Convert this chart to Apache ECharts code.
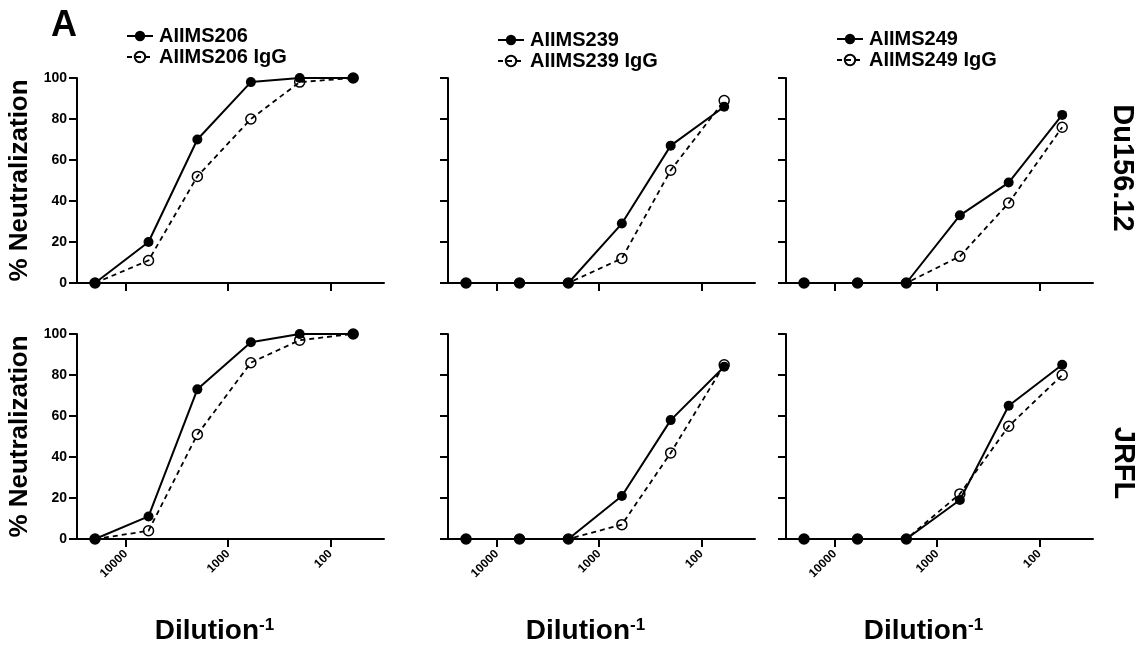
<!DOCTYPE html>
<html>
<head>
<meta charset="utf-8">
<script src="https://cdn.jsdelivr.net/npm/echarts@6/dist/echarts.min.js"></script>
<style>
html,body{margin:0;padding:0;background:#fff;}
#chart{width:1148px;height:649px;}
</style>
</head>
<body>
<div id="chart"></div>
<script>
// ---- data ----
const dilutions = [20000, 6000, 2000, 600, 200, 60];
const xTickValues = [10000, 1000, 100];
const yTicks = [0, 20, 40, 60, 80, 100];
const antibodies = ['AIIMS206', 'AIIMS239', 'AIIMS249'];
const viruses = ['Du156.12', 'JRFL'];

const du156_aiims206 = [0, 20, 70, 98, 100, 100];
const du156_aiims206_igg = [0, 11, 52, 80, 98, 100];
const du156_aiims239 = [0, 0, 0, 29, 67, 86];
const du156_aiims239_igg = [0, 0, 0, 12, 55, 89];
const du156_aiims249 = [0, 0, 0, 33, 49, 82];
const du156_aiims249_igg = [0, 0, 0, 13, 39, 76];

const jrfl_aiims206 = [0, 11, 73, 96, 100, 100];
const jrfl_aiims206_igg = [0, 4, 51, 86, 97, 100];
const jrfl_aiims239 = [0, 0, 0, 21, 58, 84];
const jrfl_aiims239_igg = [0, 0, 0, 7, 42, 85];
const jrfl_aiims249 = [0, 0, 0, 19, 65, 85];
const jrfl_aiims249_igg = [0, 0, 0, 22, 55, 80];

const panelData = [
  [[du156_aiims206, du156_aiims206_igg], [du156_aiims239, du156_aiims239_igg], [du156_aiims249, du156_aiims249_igg]],
  [[jrfl_aiims206, jrfl_aiims206_igg], [jrfl_aiims239, jrfl_aiims239_igg], [jrfl_aiims249, jrfl_aiims249_igg]]
];

// ---- layout ----
const colLeft = [77, 448, 786];
const colWidth = 307;
const rowTop = [78, 334];
const rowHeight = 205;
const FONT = 'Liberation Sans, Arial, Helvetica, sans-serif';

const grids = [], xAxes = [], yAxes = [], series = [];
let idx = 0;
for (let r = 0; r < 2; r++) {
  for (let c = 0; c < 3; c++) {
    grids.push({left: colLeft[c], top: rowTop[r], width: colWidth, height: rowHeight, containLabel: false});
    xAxes.push({
      gridIndex: idx, type: 'log', logBase: 10, min: 30, max: 30000, inverse: true,
      axisLine: {lineStyle: {color: '#000', width: 2}},
      axisTick: {show: true, length: 8, lineStyle: {color: '#000', width: 2}, customValues: xTickValues},
      axisLabel: {show: r === 1, customValues: xTickValues, rotate: 45, margin: 13,
        formatter: v => String(Math.round(v)),
        color: '#000', fontWeight: 'bold', fontSize: 12, fontFamily: FONT},
      splitLine: {show: false},
      name: r === 1 ? '{a|Dilution}{b|-1}' : '',
      nameLocation: 'middle', nameGap: 78,
      nameTextStyle: {padding: [0, 32, 0, 0], rich: {
        a: {fontSize: 28, fontWeight: 'bold', color: '#000', fontFamily: FONT},
        b: {fontSize: 17, fontWeight: 'bold', color: '#000', fontFamily: FONT, verticalAlign: 'top'}
      }}
    });
    yAxes.push({
      gridIndex: idx, type: 'value', min: 0, max: 100, interval: 20,
      axisLine: {show: true, lineStyle: {color: '#000', width: 2}},
      axisTick: {show: true, length: 8, lineStyle: {color: '#000', width: 2}},
      axisLabel: {show: c === 0, margin: 10, color: '#000', fontWeight: 'bold', fontSize: 14, fontFamily: FONT},
      splitLine: {show: false},
      name: c === 0 ? '% Neutralization' : '',
      nameLocation: 'middle', nameGap: 44, nameRotate: 90,
      nameTextStyle: {fontSize: 26, fontWeight: 'bold', color: '#000', fontFamily: FONT}
    });
    const [mainVals, iggVals] = panelData[r][c];
    series.push({
      name: antibodies[c], type: 'line', xAxisIndex: idx, yAxisIndex: idx,
      data: dilutions.map((d, i) => [d, mainVals[i]]),
      symbol: 'circle', symbolSize: 10,
      lineStyle: {color: '#000', width: 2, type: 'solid'},
      itemStyle: {color: '#000'},
      z: 3
    });
    series.push({
      name: antibodies[c] + ' IgG', type: 'line', xAxisIndex: idx, yAxisIndex: idx,
      data: dilutions.map((d, i) => [d, iggVals[i]]),
      symbol: 'circle', symbolSize: 10,
      lineStyle: {color: '#000', width: 1.8, type: [5, 4]},
      itemStyle: {color: 'rgba(0,0,0,0)', borderColor: '#000', borderWidth: 1.5},
      z: 4
    });
    idx++;
  }
}

const legendLeft = [121, 492, 831];
const legendTop = [21, 25, 24];
const legends = antibodies.map((a, c) => ({
  data: [a, a + ' IgG'], orient: 'vertical', left: legendLeft[c], top: legendTop[c],
  itemWidth: 26, itemHeight: 13, itemGap: 1, selectedMode: false,
  textStyle: {fontSize: 20, fontWeight: 'bold', color: '#000', fontFamily: FONT, padding: [0, 0, 0, 1]}
}));

const option = {
  animation: false,
  backgroundColor: '#fff',
  grid: grids, xAxis: xAxes, yAxis: yAxes, series: series, legend: legends,
  graphic: [
    {type: 'text', left: 51, top: 8, style: {text: 'A', font: 'bold 36px ' + FONT, fill: '#000'}},
    {type: 'text', x: 1122, y: 168, rotation: -Math.PI / 2,
      style: {text: viruses[0], font: 'bold 29px ' + FONT, fill: '#000', align: 'center', verticalAlign: 'middle'}},
    {type: 'text', x: 1123, y: 463, rotation: -Math.PI / 2,
      style: {text: viruses[1], font: 'bold 29px ' + FONT, fill: '#000', align: 'center', verticalAlign: 'middle'}}
  ]
};

const chart = echarts.init(document.getElementById('chart'), null, {renderer: 'canvas'});
chart.setOption(option);
</script>
</body>
</html>
